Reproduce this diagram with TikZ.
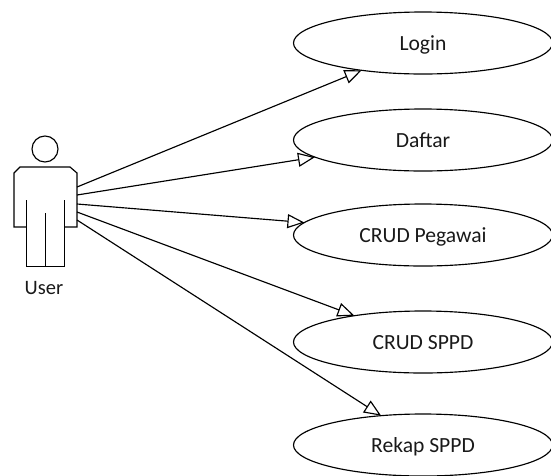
\documentclass[tikz,border=0pt]{standalone}
\usepackage{fontspec}
\setmainfont{Carlito}
\usetikzlibrary{shapes.geometric,arrows.meta}
\tikzset{
  usecase/.style={draw=black,line width=1.15pt,ellipse,inner sep=0pt,outer sep=0pt,minimum width=259pt,minimum height=62pt,font=\fontsize{21.6}{25}\selectfont,text=black!90,text height=15pt,text depth=0pt},
  assoc/.style={draw=black,line width=1.15pt,-{Triangle[open,fill=white,length=17pt,width=14pt]}},
  figure line/.style={draw=black,line width=1.15pt,line join=miter}
}
\begin{document}
\begin{tikzpicture}[x=1pt,y=-1pt]
\useasboundingbox (0,0) rectangle (551,475);
\node[usecase] (login) at (423,43) {Login};
\node[usecase] (daftar) at (423,140) {Daftar};
\node[usecase] (pegawai) at (423,235) {CRUD Pegawai};
\node[usecase] (sppd) at (423,342) {CRUD SPPD};
\node[usecase] (rekap) at (423,445) {Rekap SPPD};
% actor
\node[draw=black,line width=1.15pt,circle,minimum size=26pt,inner sep=0pt] (head) at (45,149) {};
\draw[figure line] (26.4,200) -- (26.4,266.4) -- (64.4,266.4) -- (64.4,200);
\draw[figure line] (26.4,227) -- (14,227) -- (14,173) -- (20,167) -- (70,167) -- (77,173) -- (77,227) -- (64.4,227);
\draw[figure line] (45.4,213) -- (45.4,266.4);
\node[font=\fontsize{20.5}{24}\selectfont,text=black!90] (user) at (44,288) {User};
\coordinate (a1) at (77,187);
\coordinate (a2) at (77,195);
\coordinate (a3) at (77,204);
\coordinate (a4) at (77,212);
\coordinate (a5) at (77,220);
\draw[assoc] (a1) -- (login.204);
\draw[assoc] (a2) -- (daftar.189.6);
\draw[assoc] (a3) -- (pegawai.174.8);
\draw[assoc] (a4) -- (sppd.159.1);
\draw[assoc] (a5) -- (rekap.145.1);
\end{tikzpicture}
\end{document}
